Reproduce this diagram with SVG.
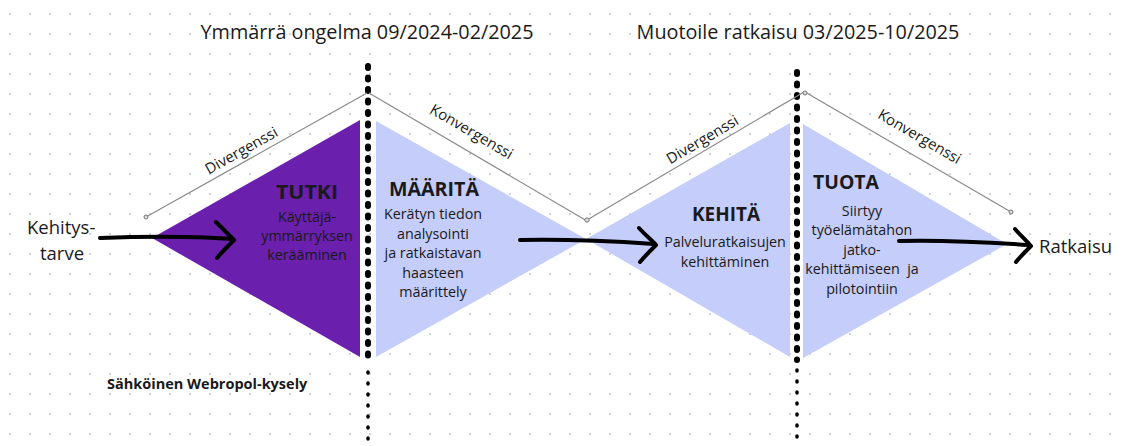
<svg xmlns="http://www.w3.org/2000/svg" width="1123" height="446" viewBox="0 0 1123 446">
<defs>
<pattern id="grid" x="0" y="4" width="20" height="20" patternUnits="userSpaceOnUse">
<circle cx="10" cy="10" r="1.1" fill="#c3c7d3"/>
</pattern>
<style>
text{font-family:"Open Sans","Noto Sans","Liberation Sans",sans-serif;fill:#1a1a1a}
.title{font-size:19.8px;text-anchor:middle}
.big{font-size:18.5px}
.head{font-size:19px;font-weight:bold;text-anchor:middle}
.body{font-size:14.3px;text-anchor:middle;white-space:pre}
.lbl{font-size:15px;text-anchor:middle}
.guide{stroke:#8a8a8a;stroke-width:1.2;fill:none}
.end{fill:#ddd;stroke:#777;stroke-width:1}
.div{stroke:#000;stroke-width:6;stroke-linecap:round;stroke-dasharray:2 9.5;fill:none}
.divs{stroke:#000;stroke-width:3.5;stroke-linecap:round;stroke-dasharray:1 10;fill:none}
.arr{stroke:#000;stroke-width:4;stroke-linecap:round;stroke-linejoin:round;fill:none}
</style>
</defs>
<rect width="1123" height="446" fill="#fff"/>
<rect width="1123" height="446" fill="url(#grid)"/>

<g id="tutki">
<polygon points="152,238 360,120 360,357" fill="#6a1fad"/>
<text class="head" x="307" y="199" textLength="62" lengthAdjust="spacingAndGlyphs">TUTKI</text>
<text class="body" x="307" y="222">Käyttäjä-</text>
<text class="body" x="307" y="241">ymmärryksen</text>
<text class="body" x="307" y="260">kerääminen</text>
</g>
<g id="maarita">
<polygon points="376,121 586,239 376,357" fill="#c5cdfb"/>
<text class="head" x="434" y="196" textLength="90" lengthAdjust="spacingAndGlyphs">MÄÄRITÄ</text>
<text class="body" x="433" y="219">Kerätyn tiedon</text>
<text class="body" x="433" y="239">analysointi</text>
<text class="body" x="433" y="258">ja ratkaistavan</text>
<text class="body" x="433" y="278">haasteen</text>
<text class="body" x="433" y="297">määrittely</text>
</g>
<g id="kehita">
<polygon points="586,239 790,123 790,357" fill="#c5cdfb"/>
<text class="head" x="726" y="221" textLength="68" lengthAdjust="spacingAndGlyphs">KEHITÄ</text>
<text class="body" x="725" y="247">Palveluratkaisujen</text>
<text class="body" x="725" y="267">kehittäminen</text>
</g>
<g id="tuota">
<polygon points="803,124 1007,244 803,358" fill="#c5cdfb"/>
<text class="head" x="846" y="189" textLength="66" lengthAdjust="spacingAndGlyphs">TUOTA</text>
<text class="body" x="862" y="216">Siirtyy</text>
<text class="body" x="862" y="235">työelämätahon</text>
<text class="body" x="862" y="255">jatko-</text>
<text class="body" x="862" y="274" xml:space="preserve">kehittämiseen  ja</text>
<text class="body" x="862" y="294">pilotointiin</text>
</g>

<g id="dividers">
<path class="div" d="M368,66 V362"/>
<path class="divs" d="M368,372 V440"/>
<path class="div" d="M797,72 V360"/>
<path class="divs" d="M797,370 V440"/>
</g>

<g id="connectors">
<line class="guide" x1="146" y1="217" x2="367" y2="93"/>
<line class="guide" x1="369" y1="93" x2="587" y2="221"/>
<line class="guide" x1="587" y1="220" x2="804" y2="92"/>
<line class="guide" x1="805" y1="92" x2="1011" y2="212"/>
<circle class="end" cx="146" cy="217" r="2"/>
<circle class="end" cx="587" cy="220" r="2.2"/>
<circle class="end" cx="1011" cy="212" r="2"/>
<circle class="end" cx="805" cy="93" r="2"/>
<text class="lbl" transform="translate(244,155) rotate(-29.3)">Divergenssi</text>
<text class="lbl" transform="translate(469,136) rotate(30.4)">Konvergenssi</text>
<text class="lbl" transform="translate(705,144) rotate(-30.5)">Divergenssi</text>
<text class="lbl" transform="translate(917,141) rotate(30.2)">Konvergenssi</text>
<path class="arr" d="M100,238 C150,236 190,236 232,239"/>
<path class="arr" d="M216,222 C224,230 230,236 234,240 C228,246 222,252 217,258"/>
<path class="arr" d="M520,240 C570,239 610,241 654,244"/>
<path class="arr" d="M639,228 C646,236 652,240 656,245 C650,251 645,256 640,262"/>
<path class="arr" d="M899,241 C940,240 985,242 1029,245"/>
<path class="arr" d="M1015,229 C1021,236 1026,240 1031,246 C1025,252 1020,257 1016,262"/>
</g>

<g id="labels">
<text class="title" x="367" y="39">Ymmärrä ongelma 09/2024-02/2025</text>
<text class="title" x="798" y="39">Muotoile ratkaisu 03/2025-10/2025</text>
<text class="big" x="27" y="234">Kehitys-</text>
<text class="big" x="40" y="260">tarve</text>
<text class="big" x="1039" y="253">Ratkaisu</text>
<text x="107" y="389" style="font-size:14.5px;font-weight:bold">Sähköinen Webropol-kysely</text>
</g>
</svg>
